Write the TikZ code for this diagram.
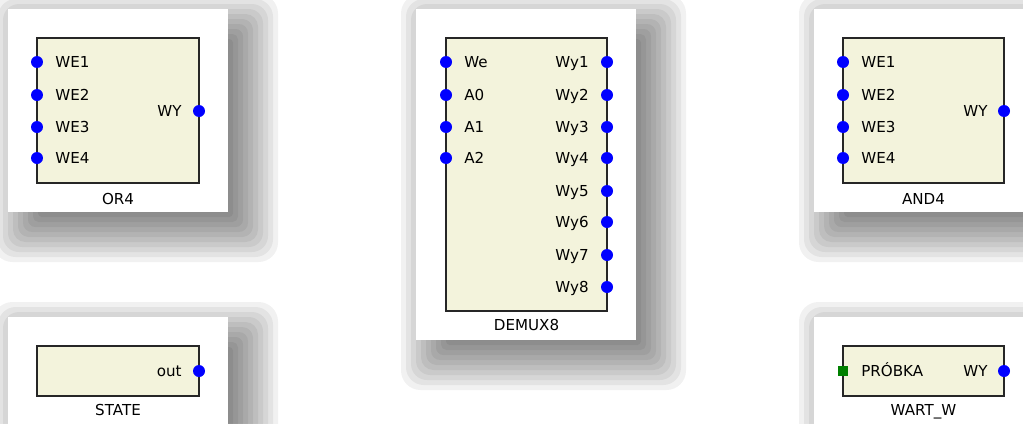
\documentclass[tikz,border=0pt]{standalone}
\usepackage{fontspec}
\setmainfont{DejaVu Sans}
\usetikzlibrary{positioning}

\definecolor{blockfill}{RGB}{243,243,220}
\definecolor{pinblue}{RGB}{0,0,255}
\definecolor{pingreen}{RGB}{0,128,0}

\tikzset{
  card/.style={fill=white},
  blockbox/.style={draw=black!85, line width=0.85pt, fill=blockfill, inner sep=0pt},
  portdot/.style={circle, fill=pinblue, inner sep=0pt, minimum size=0.24cm},
  portsq/.style={rectangle, fill=pingreen, inner sep=0pt, minimum size=0.2cm},
  portlbl/.style={inner sep=0pt, text height=6.3pt, text depth=0pt, font=\fontsize{8.6}{10}\selectfont},
}

% soft drop shadow behind a card (coordinates in px)
\newcommand{\dropshadow}[4]{%
  \foreach \r in {0,5,...,55}
    \fill[black, fill opacity=0.053, rounded corners=\r*0.2pt+0.1pt]
      (#1+40-\r,#2+40-\r) rectangle (#3-5+\r,#4-5+\r);
}

\begin{document}
\begin{tikzpicture}[x=0.02cm, y=-0.02cm]
    \useasboundingbox (0,0) rectangle (1023,423);
    \clip (0,0) rectangle (1023,423);
    \fill[white] (0,0) rectangle (1023,423);

    % cienie i karty
    \dropshadow{8}{9}{228}{212}
    \dropshadow{416}{9}{636}{340}
    \dropshadow{814}{9}{1033}{212}
    \dropshadow{8}{317}{228}{425}
    \dropshadow{814}{317}{1033}{425}
    \fill[card] (8,9) rectangle (228,212);
    \fill[card] (416,9) rectangle (636,340);
    \fill[card] (814,9) rectangle (1033,212);
    \fill[card] (8,317) rectangle (228,425);
    \fill[card] (814,317) rectangle (1033,425);

    % OR4
    \node[blockbox, minimum width=3.24cm, minimum height=2.9cm] (or4) at (118,110.5) {};
    \foreach \n/\y in {1/62,2/95,3/127,4/158} {
        \node[portdot] (or4-we\n) at (37,\y) {};
        \node[portlbl, anchor=west] (or4-we\n-l) at (55,\y) {WE\n};
    }
    \node[portdot] (or4-wy) at (199,111) {};
    \node[portlbl, anchor=east] (or4-wy-l) at (182,111) {WY};
    \node[portlbl] (or4-name) at (118,199) {OR4};

    % DEMUX8
    \node[blockbox, minimum width=3.22cm, minimum height=5.46cm] (demux) at (526.5,174.5) {};
    \foreach \n/\t/\y in {1/We/62,2/A0/95,3/A1/127,4/A2/158} {
        \node[portdot] (demux-in\n) at (446,\y) {};
        \node[portlbl, anchor=west] (demux-in\n-l) at (464,\y) {\t};
    }
    \foreach \n/\y in {1/62,2/95,3/127,4/158,5/191,6/222,7/255,8/287} {
        \node[portdot] (demux-wy\n) at (607,\y) {};
        \node[portlbl, anchor=east] (demux-wy\n-l) at (589,\y) {Wy\n};
    }
    \node[portlbl] (demux-name) at (526.5,325) {DEMUX8};

    % AND4
    \node[blockbox, minimum width=3.22cm, minimum height=2.9cm] (and4) at (923.5,110.5) {};
    \foreach \n/\y in {1/62,2/95,3/127,4/158} {
        \node[portdot] (and4-we\n) at (843,\y) {};
        \node[portlbl, anchor=west] (and4-we\n-l) at (861,\y) {WE\n};
    }
    \node[portdot] (and4-wy) at (1004,111) {};
    \node[portlbl, anchor=east] (and4-wy-l) at (988,111) {WY};
    \node[portlbl] (and4-name) at (923.5,199) {AND4};

    % STATE
    \node[blockbox, minimum width=3.24cm, minimum height=1cm] (state) at (118,371) {};
    \node[portdot] (state-out) at (199,371) {};
    \node[portlbl, anchor=east] (state-out-l) at (182,371) {out};
    \node[portlbl] (state-name) at (118,410) {STATE};

    % WART_W
    \node[blockbox, minimum width=3.22cm, minimum height=1cm] (wart) at (923.5,371) {};
    \node[portsq] (wart-in) at (843,371) {};
    \node[portlbl, anchor=west] (wart-in-l) at (861,371) {PRÓBKA};
    \node[portdot] (wart-wy) at (1004,371) {};
    \node[portlbl, anchor=east] (wart-wy-l) at (988,371) {WY};
    \node[portlbl] (wart-name) at (923.5,410) {WART\_W};
\end{tikzpicture}
\end{document}
